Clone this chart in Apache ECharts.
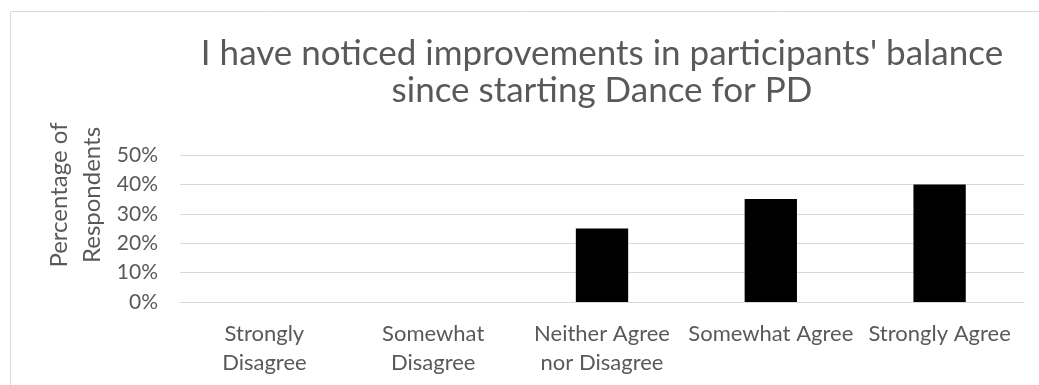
<!DOCTYPE html>
<html><head><meta charset="utf-8">
<script src="https://cdn.jsdelivr.net/npm/echarts@6/dist/echarts.min.js"></script>
<style>html,body{margin:0;padding:0;background:#fff}#c{width:1039px;height:385px}</style>
</head><body><div id="c"></div>
<script>
const categories = ["Strongly Disagree", "Somewhat Disagree", "Neither Agree nor Disagree", "Somewhat Agree", "Strongly Agree"];
const xTickLabels = ["Strongly\nDisagree", "Somewhat\nDisagree", "Neither Agree\nnor Disagree", "Somewhat Agree", "Strongly Agree"];
const values = [0, 0, 25, 35, 40];
const titleText = "I have noticed improvements in participants' balance\nsince starting Dance for PD";
const yAxisTitle = "Percentage of\nRespondents";

const FONT = "Lato";
const chart = echarts.init(document.getElementById('c'));
chart.setOption({
  animation: false,
  title: {
    text: titleText,
    left: 597, top: 30, textAlign: 'center',
    textStyle: { fontFamily: FONT, fontSize: 35, fontWeight: 'normal', color: '#595959', lineHeight: 37 }
  },
  grid: { left: 180, right: 15, top: 155, bottom: 83, containLabel: false },
  xAxis: {
    type: 'category', data: categories,
    axisLine: { lineStyle: { color: '#d9d9d9', width: 1 } },
    axisTick: { show: false },
    axisLabel: {
      interval: 0, margin: 17, fontFamily: FONT, fontSize: 22, color: '#595959', lineHeight: 29,
      formatter: (v, i) => xTickLabels[i]
    }
  },
  yAxis: {
    type: 'value', min: 0, max: 50, interval: 10,
    axisLine: { show: false }, axisTick: { show: false },
    splitLine: { lineStyle: { color: '#d9d9d9', width: 1 } },
    axisLabel: { formatter: '{value}%', margin: 22, fontFamily: FONT, fontSize: 21, color: '#595959' }
  },
  graphic: [
    { type: 'rect', shape: { x: 10.5, y: 11.5, width: 1200, height: 600 }, style: { fill: 'none', stroke: '#d9d9d9', lineWidth: 1 }, silent: true },
    { type: 'text', x: 76, y: 195, rotation: Math.PI / 2,
      style: { text: yAxisTitle, fontFamily: FONT, fontSize: 24, fill: '#595959', align: 'center', verticalAlign: 'middle', lineHeight: 33 } }
  ],
  series: [{
    type: 'bar', data: values, barWidth: '31%',
    itemStyle: { color: '#000000' }
  }]
});
</script></body></html>
